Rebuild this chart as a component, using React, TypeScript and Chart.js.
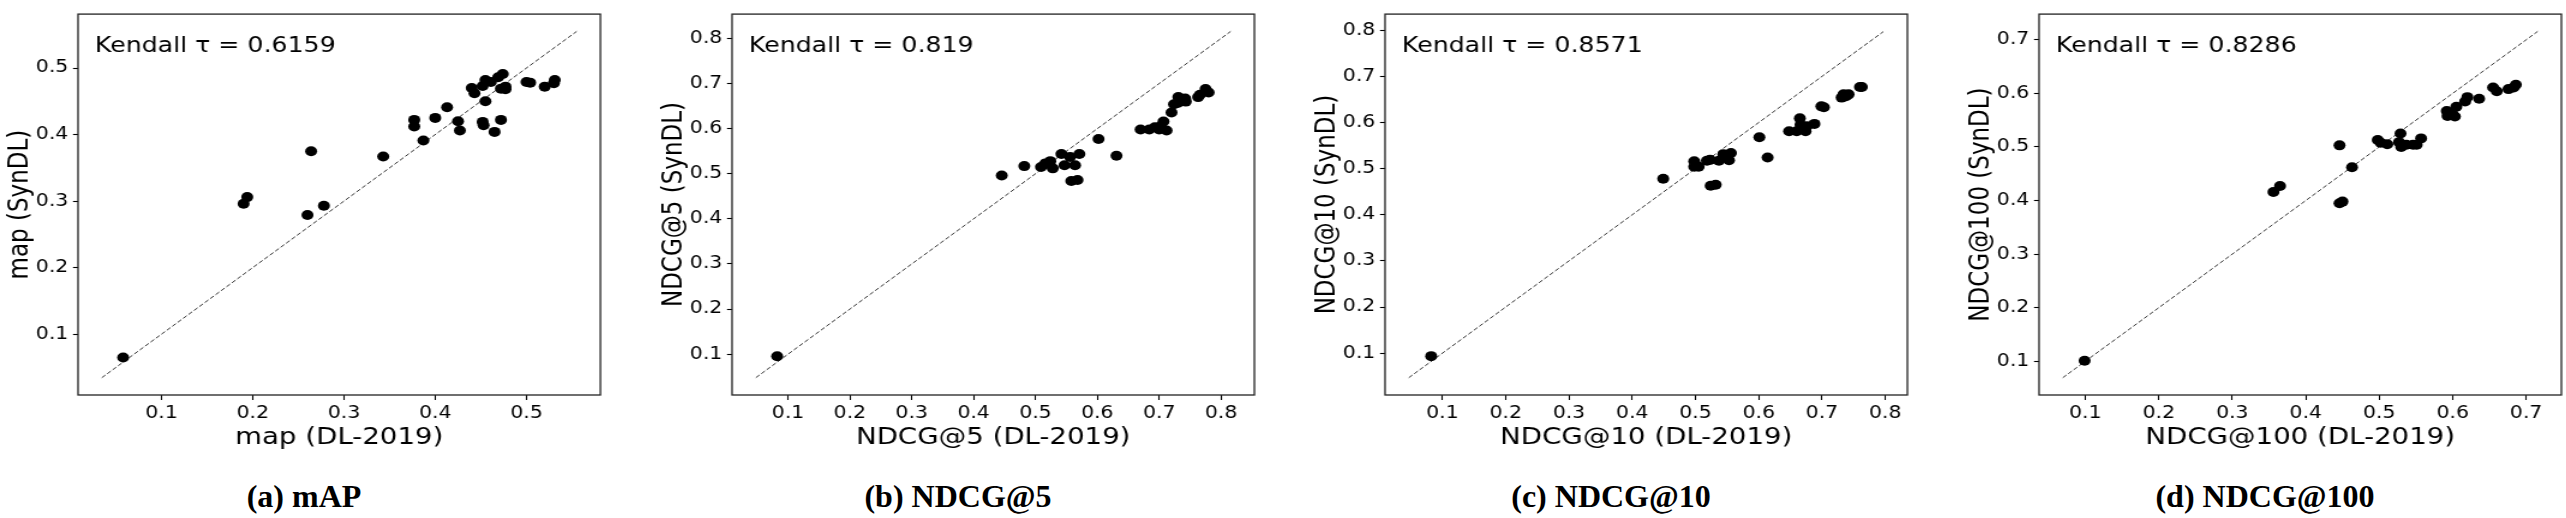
import React, { useEffect, useRef } from "react";
import { Chart, registerables } from "chart.js";

Chart.register(...registerables);

// ---------- data ----------
const mapDL = [0.058, 0.19, 0.194, 0.26, 0.264, 0.278, 0.343, 0.377, 0.377, 0.387, 0.4, 0.413, 0.425, 0.427, 0.44, 0.443, 0.452, 0.455, 0.455, 0.452, 0.453, 0.461, 0.465, 0.469, 0.474, 0.472, 0.472, 0.477, 0.477, 0.5, 0.504, 0.52, 0.53, 0.531];
const mapSyn = [0.065, 0.296, 0.306, 0.279, 0.375, 0.293, 0.367, 0.422, 0.412, 0.391, 0.425, 0.441, 0.42, 0.406, 0.47, 0.462, 0.473, 0.482, 0.45, 0.419, 0.414, 0.479, 0.404, 0.486, 0.491, 0.469, 0.422, 0.472, 0.468, 0.479, 0.478, 0.472, 0.477, 0.482];

const ndcg5DL = [0.0824, 0.4455, 0.482, 0.509, 0.516, 0.524, 0.528, 0.542, 0.547, 0.556, 0.558, 0.564, 0.568, 0.571, 0.602, 0.631, 0.67, 0.684, 0.693, 0.7, 0.703, 0.707, 0.712, 0.72, 0.724, 0.731, 0.73, 0.742, 0.743, 0.763, 0.766, 0.775, 0.78];
const ndcg5Syn = [0.0955, 0.496, 0.517, 0.515, 0.523, 0.528, 0.512, 0.544, 0.519, 0.537, 0.484, 0.519, 0.486, 0.544, 0.577, 0.54, 0.598, 0.598, 0.603, 0.598, 0.606, 0.616, 0.596, 0.636, 0.654, 0.67, 0.657, 0.667, 0.66, 0.67, 0.675, 0.688, 0.68];

const ndcg10DL = [0.0822, 0.449, 0.498, 0.498, 0.505, 0.518, 0.523, 0.524, 0.532, 0.537, 0.544, 0.553, 0.556, 0.601, 0.614, 0.648, 0.66, 0.665, 0.666, 0.674, 0.676, 0.688, 0.699, 0.703, 0.731, 0.734, 0.738, 0.742, 0.76, 0.763];
const ndcg10Syn = [0.0935, 0.478, 0.516, 0.504, 0.504, 0.517, 0.519, 0.463, 0.465, 0.517, 0.531, 0.518, 0.534, 0.568, 0.524, 0.581, 0.581, 0.609, 0.595, 0.581, 0.592, 0.597, 0.635, 0.633, 0.654, 0.661, 0.657, 0.661, 0.677, 0.677];

const ndcg100DL = [0.099, 0.356, 0.365, 0.446, 0.446, 0.45, 0.463, 0.498, 0.502, 0.511, 0.529, 0.527, 0.53, 0.537, 0.546, 0.551, 0.557, 0.592, 0.593, 0.599, 0.605, 0.603, 0.617, 0.62, 0.636, 0.655, 0.66, 0.676, 0.683, 0.686];
const ndcg100Syn = [0.101, 0.416, 0.427, 0.503, 0.395, 0.398, 0.462, 0.513, 0.508, 0.505, 0.525, 0.509, 0.5, 0.504, 0.504, 0.504, 0.516, 0.567, 0.558, 0.564, 0.575, 0.557, 0.585, 0.593, 0.59, 0.611, 0.604, 0.608, 0.611, 0.616];

const ticks05 = [0.1, 0.2, 0.3, 0.4, 0.5];
const ticks08 = [0.1, 0.2, 0.3, 0.4, 0.5, 0.6, 0.7, 0.8];
const ticks07 = [0.1, 0.2, 0.3, 0.4, 0.5, 0.6, 0.7];

const tauLabels = ["Kendall τ = 0.6159", "Kendall τ = 0.819", "Kendall τ = 0.8571", "Kendall τ = 0.8286"];
const xTitles = ["map (DL-2019)", "NDCG@5 (DL-2019)", "NDCG@10 (DL-2019)", "NDCG@100 (DL-2019)"];
const yTitles = ["map (SynDL)", "NDCG@5 (SynDL)", "NDCG@10 (SynDL)", "NDCG@100 (SynDL)"];
const captionBold = ["(a) mAP", "(b) NDCG@5", "(c) NDCG@10", "(d) NDCG@100"];

// axis limits and y = x reference line ends
const limits: [number, number][] = [[0.0086, 0.581], [0.0095, 0.854], [0.0093, 0.835], [0.037, 0.748]];
const diagEnds: [number, number][] = [[0.0346, 0.555], [0.048, 0.8156], [0.0468, 0.797], [0.0693, 0.7157]];

// ---------- layout ----------
// the reference figure is stretched horizontally; we draw narrower and stretch with CSS
const CSS_W = 604;
const CANVAS_W = 503;
const Y_W = 65; // internal px
const TOP = 6;
const BOX_H = 389;
const X_H = 60;
const CANVAS_H = TOP + BOX_H + X_H;
const panelLefts = [0, 654, 1307, 1961];
const captionCenters = [304, 958, 1611, 2265];

const FONT = "'DejaVu Sans', sans-serif";

type PanelDef = {
  xs: number[];
  ys: number[];
  ticks: number[];
  lim: [number, number];
  diag: [number, number];
  tau: string;
  xTitle: string;
  yTitle: string;
  left: number;
};

function ScatterPanel({ p }: { p: PanelDef }) {
  const ref = useRef<HTMLCanvasElement | null>(null);
  useEffect(() => {
    if (!ref.current) return;
    const framePlugin = {
      id: "frameAndLabel",
      afterDraw(chart: any) {
        const { ctx, chartArea } = chart;
        ctx.save();
        ctx.strokeStyle = "#222";
        ctx.lineWidth = 1.3;
        ctx.strokeRect(chartArea.left, chartArea.top, chartArea.right - chartArea.left, chartArea.bottom - chartArea.top);
        ctx.fillStyle = "#000";
        ctx.font = `21px ${FONT}`;
        ctx.textAlign = "left";
        ctx.textBaseline = "alphabetic";
        ctx.fillText(p.tau, chartArea.left + 14, chartArea.top + 37.5);
        ctx.restore();
      },
    };
    const tickSetter = (s: any) => {
      s.ticks = p.ticks.map((v) => ({ value: v }));
    };
    const common = (title: string, isY: boolean) => ({
      type: "linear" as const,
      min: p.lim[0],
      max: p.lim[1],
      afterBuildTicks: tickSetter,
      afterFit: (s: any) => {
        if (isY) s.width = Y_W;
        else s.height = X_H;
      },
      grid: {
        display: true,
        drawOnChartArea: false,
        drawTicks: true,
        tickLength: isY ? 4.2 : 5,
        tickColor: "#000",
        tickWidth: 1.1,
        color: "#000",
      },
      border: { display: false },
      ticks: {
        color: "#000",
        font: { family: FONT, size: 17 },
        padding: isY ? 3.9 : 3,
        autoSkip: false,
        maxRotation: 0,
        callback: (v: any) => Number(v).toFixed(1),
      },
      title: {
        display: true,
        text: title,
        color: "#000",
        font: { family: FONT, size: 23 },
        padding: isY ? { top: 3.3, bottom: 0 } : { top: 0, bottom: 3.2 },
      },
    });
    const chart = new Chart(ref.current, {
      type: "scatter",
      data: {
        datasets: [
          {
            data: p.xs.map((x, i) => ({ x, y: p.ys[i] })),
            backgroundColor: "#000",
            borderColor: "#000",
            borderWidth: 0,
            pointRadius: 5,
            pointHoverRadius: 5,
          },
          {
            data: [
              { x: p.diag[0], y: p.diag[0] },
              { x: p.diag[1], y: p.diag[1] },
            ],
            showLine: true,
            borderColor: "#000",
            borderWidth: 0.8,
            borderDash: [4, 2],
            pointRadius: 0,
          },
        ],
      },
      options: {
        animation: false,
        responsive: false,
        devicePixelRatio: 1,
        events: [],
        layout: { padding: { top: TOP, right: 3, bottom: 0, left: 0 }, autoPadding: false },
        plugins: { legend: { display: false }, tooltip: { enabled: false } },
        scales: {
          x: common(p.xTitle, false),
          y: common(p.yTitle, true),
        },
      } as any,
      plugins: [framePlugin],
    });
    return () => chart.destroy();
  }, [p]);
  return (
    <canvas
      ref={ref}
      width={CANVAS_W}
      height={CANVAS_H}
      style={{ position: "absolute", left: p.left, top: 0, width: CSS_W, height: CANVAS_H }}
    />
  );
}

const panels: PanelDef[] = [
  { xs: mapDL, ys: mapSyn, ticks: ticks05 },
  { xs: ndcg5DL, ys: ndcg5Syn, ticks: ticks08 },
  { xs: ndcg10DL, ys: ndcg10Syn, ticks: ticks08 },
  { xs: ndcg100DL, ys: ndcg100Syn, ticks: ticks07 },
].map((d, i) => ({
  ...d,
  lim: limits[i],
  diag: diagEnds[i],
  tau: tauLabels[i],
  xTitle: xTitles[i],
  yTitle: yTitles[i],
  left: panelLefts[i],
}));

export default function App() {
  return (
    <div style={{ position: "absolute", left: 0, top: 0, width: 2566, height: 518, background: "#fff", overflow: "hidden" }}>
      {panels.map((p, i) => (
        <ScatterPanel key={i} p={p} />
      ))}
      {captionBold.map((c, i) => (
        <div
          key={"c" + i}
          style={{
            position: "absolute",
            left: captionCenters[i] - 200,
            width: 400,
            top: 480,
            textAlign: "center",
            fontFamily: "'Liberation Serif', serif",
            fontWeight: "bold",
            fontSize: 32,
            lineHeight: "32px",
            color: "#000",
            whiteSpace: "nowrap",
          }}
        >
          {c}
        </div>
      ))}
    </div>
  );
}
